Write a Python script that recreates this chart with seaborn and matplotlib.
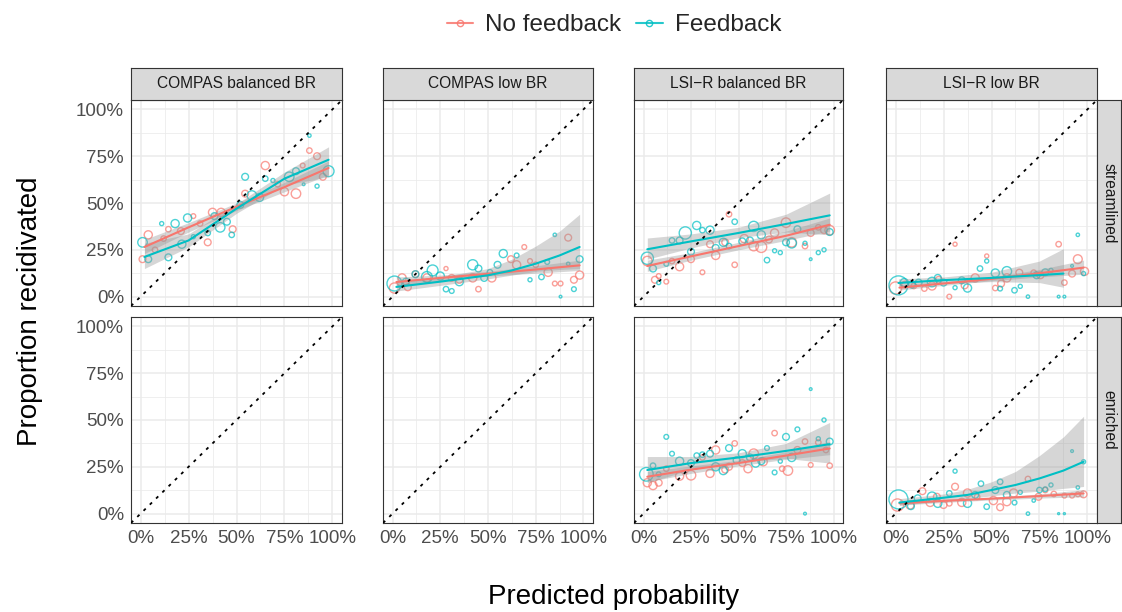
import numpy as np
import pandas as pd
import matplotlib
matplotlib.use("Agg")
import matplotlib.pyplot as plt
import seaborn as sns
from matplotlib.lines import Line2D

sns.set_style("white")
plt.rcParams["font.family"] = ["Liberation Sans", "DejaVu Sans"]

# ---------------- data ----------------
conditions = ["No feedback", "Feedback"]
col_labels = ["COMPAS balanced BR", "COMPAS low BR", "LSI\u2212R balanced BR", "LSI\u2212R low BR"]
row_labels = ["streamlined", "enriched"]
tick_vals = [0, 0.25, 0.5, 0.75, 1.0]
tick_labels = ["0%", "25%", "50%", "75%", "100%"]

fit_x = [0.02, 0.25, 0.5, 0.75, 0.98]

# Panel 1: COMPAS balanced BR / streamlined
p1_nf_x = [0.01,0.04,0.075,0.12,0.145,0.21,0.275,0.31,0.35,0.375,0.42,0.48,0.545,0.65,0.715,0.75,0.81,0.845,0.88,0.92,0.95]
p1_nf_y = [0.20,0.33,0.25,0.31,0.36,0.35,0.43,0.39,0.29,0.45,0.45,0.36,0.55,0.70,0.60,0.56,0.55,0.70,0.78,0.75,0.64]
p1_nf_n = [100,144,64,64,64,100,49,64,100,144,144,100,100,144,64,144,196,49,64,100,100]
p1_fb_x = [0.01,0.04,0.11,0.145,0.18,0.215,0.245,0.275,0.35,0.385,0.415,0.45,0.475,0.52,0.545,0.58,0.62,0.65,0.69,0.775,0.81,0.85,0.88,0.92,0.98]
p1_fb_y = [0.29,0.20,0.39,0.21,0.39,0.28,0.42,0.32,0.34,0.43,0.37,0.40,0.33,0.49,0.64,0.54,0.53,0.63,0.62,0.64,0.67,0.60,0.86,0.59,0.67]
p1_fb_n = [196,100,36,100,144,144,144,36,64,100,196,100,64,100,100,196,144,64,36,196,100,16,25,36,256]
p1_nf_fx = fit_x
p1_nf_fit = [0.265, 0.37, 0.48, 0.585, 0.687]
p1_nf_lo = [0.23, 0.345, 0.46, 0.56, 0.65]
p1_nf_hi = [0.305, 0.395, 0.50, 0.61, 0.725]
p1_fb_fx = fit_x
p1_fb_fit = [0.212, 0.30, 0.47, 0.63, 0.731]
p1_fb_lo = [0.15, 0.265, 0.445, 0.595, 0.64]
p1_fb_hi = [0.285, 0.335, 0.495, 0.665, 0.80]

# Panel 2: COMPAS low BR / streamlined
p2_nf_x = [0.01,0.05,0.08,0.12,0.18,0.28,0.31,0.35,0.42,0.45,0.52,0.62,0.65,0.69,0.72,0.75,0.815,0.85,0.88,0.92,0.95,0.98]
p2_nf_y = [0.046,0.10,0.05,0.12,0.10,0.15,0.10,0.09,0.10,0.04,0.10,0.20,0.17,0.265,0.19,0.17,0.13,0.07,0.07,0.315,0.09,0.115]
p2_nf_n = [225,144,100,100,144,36,100,100,144,64,144,100,144,49,49,64,144,49,49,100,100,144]
p2_fb_x = [0.01,0.07,0.12,0.18,0.21,0.25,0.28,0.31,0.35,0.42,0.45,0.48,0.51,0.55,0.58,0.65,0.72,0.78,0.81,0.85,0.88,0.92,0.95,0.98]
p2_fb_y = [0.07,0.08,0.12,0.105,0.14,0.11,0.04,0.03,0.08,0.17,0.15,0.10,0.13,0.17,0.23,0.22,0.09,0.105,0.185,0.33,0.0,0.175,0.04,0.20]
p2_fb_n = [484,100,100,256,256,144,64,49,144,225,100,100,64,100,144,49,36,64,49,25,16,25,49,100]
p2_nf_fx = fit_x
p2_nf_fit = [0.078, 0.10, 0.122, 0.145, 0.167]
p2_nf_lo = [0.05, 0.085, 0.11, 0.125, 0.14]
p2_nf_hi = [0.105, 0.115, 0.135, 0.165, 0.195]
p2_fb_fx = [0.02, 0.25, 0.5, 0.625, 0.75, 0.875, 0.98]
p2_fb_fit = [0.052, 0.08, 0.114, 0.14, 0.176, 0.22, 0.265]
p2_fb_lo = [0.03, 0.06, 0.095, 0.115, 0.135, 0.145, 0.15]
p2_fb_hi = [0.085, 0.105, 0.15, 0.20, 0.27, 0.35, 0.44]

# Panel 3: LSI-R balanced BR / streamlined
p3_nf_x = [0.02,0.06,0.08,0.12,0.15,0.19,0.25,0.31,0.35,0.38,0.43,0.45,0.48,0.53,0.58,0.62,0.66,0.69,0.75,0.78,0.85,0.88,0.92,0.95,0.98]
p3_nf_y = [0.19,0.09,0.11,0.08,0.19,0.16,0.20,0.13,0.28,0.22,0.29,0.44,0.17,0.31,0.27,0.265,0.305,0.34,0.395,0.29,0.27,0.34,0.37,0.355,0.355]
p3_nf_n = [196,100,49,49,64,144,100,49,100,144,100,64,64,144,196,256,100,144,196,196,64,100,64,100,196]
p3_fb_x = [0.02,0.05,0.08,0.12,0.15,0.19,0.22,0.25,0.28,0.31,0.35,0.38,0.42,0.45,0.48,0.52,0.56,0.58,0.62,0.65,0.69,0.72,0.75,0.78,0.81,0.85,0.88,0.92,0.95,0.98]
p3_fb_y = [0.205,0.15,0.075,0.175,0.30,0.30,0.34,0.24,0.38,0.355,0.355,0.26,0.29,0.27,0.40,0.295,0.30,0.375,0.33,0.195,0.245,0.235,0.29,0.285,0.36,0.285,0.20,0.235,0.25,0.345]
p3_fb_n = [324,100,36,49,64,100,324,100,144,64,144,100,144,64,64,100,100,225,144,64,36,36,100,196,100,36,16,36,36,100]
p3_nf_fx = fit_x
p3_nf_fit = [0.164, 0.215, 0.27, 0.325, 0.384]
p3_nf_lo = [0.135, 0.195, 0.25, 0.30, 0.35]
p3_nf_hi = [0.195, 0.235, 0.29, 0.35, 0.42]
p3_fb_fx = fit_x
p3_fb_fit = [0.253, 0.295, 0.34, 0.388, 0.434]
p3_fb_lo = [0.20, 0.26, 0.315, 0.345, 0.33]
p3_fb_hi = [0.313, 0.335, 0.37, 0.44, 0.553]

# Panel 4: LSI-R low BR / streamlined
p4_nf_x = [0.0,0.05,0.095,0.15,0.19,0.225,0.28,0.31,0.36,0.415,0.475,0.52,0.55,0.58,0.645,0.72,0.755,0.85,0.88,0.92,0.95,0.985]
p4_nf_y = [0.046,0.064,0.057,0.043,0.057,0.09,0.0,0.28,0.06,0.10,0.217,0.046,0.07,0.10,0.128,0.128,0.114,0.28,0.075,0.123,0.20,0.135]
p4_nf_n = [324,100,64,64,144,100,49,36,100,144,36,64,100,144,100,64,100,64,64,100,169,144]
p4_fb_x = [0.015,0.045,0.085,0.12,0.19,0.22,0.25,0.31,0.345,0.375,0.44,0.475,0.52,0.545,0.58,0.62,0.65,0.69,0.735,0.78,0.81,0.85,0.88,0.92,0.95,0.98]
p4_fb_y = [0.06,0.075,0.064,0.075,0.078,0.10,0.075,0.048,0.087,0.046,0.15,0.19,0.126,0.043,0.135,0.034,0.055,0.0,0.114,0.13,0.14,0.0,0.0,0.164,0.33,0.123]
p4_fb_n = [784,144,100,100,196,100,100,36,100,144,64,36,144,49,196,64,36,25,100,100,36,16,16,16,25,36]
p4_nf_fx = fit_x
p4_nf_fit = [0.048, 0.07, 0.095, 0.125, 0.155]
p4_nf_lo = [0.035, 0.06, 0.085, 0.105, 0.12]
p4_nf_hi = [0.065, 0.08, 0.105, 0.145, 0.195]
p4_fb_fx = [0.015, 0.25, 0.5, 0.75, 0.875]
p4_fb_fit = [0.073, 0.088, 0.10, 0.115, 0.123]
p4_fb_lo = [0.055, 0.07, 0.08, 0.075, 0.05]
p4_fb_hi = [0.095, 0.105, 0.13, 0.19, 0.256]

# Panel 7: LSI-R balanced BR / enriched
p7_nf_x = [0.02,0.05,0.08,0.12,0.19,0.25,0.31,0.35,0.38,0.43,0.45,0.48,0.52,0.55,0.58,0.63,0.69,0.73,0.76,0.81,0.85,0.88,0.92,0.96,0.98]
p7_nf_y = [0.165,0.15,0.165,0.24,0.20,0.205,0.30,0.215,0.34,0.235,0.25,0.375,0.27,0.24,0.32,0.277,0.43,0.24,0.23,0.34,0.385,0.26,0.38,0.34,0.256]
p7_nf_n = [144,144,100,64,144,196,64,144,144,100,100,64,100,144,196,144,64,64,196,100,64,49,64,64,64]
p7_fb_x = [0.015,0.05,0.08,0.12,0.15,0.19,0.25,0.28,0.31,0.35,0.38,0.42,0.45,0.49,0.52,0.56,0.59,0.62,0.65,0.69,0.72,0.75,0.78,0.81,0.85,0.88,0.92,0.95,0.98]
p7_fb_y = [0.21,0.256,0.21,0.41,0.32,0.28,0.27,0.31,0.315,0.32,0.25,0.23,0.35,0.285,0.32,0.30,0.27,0.28,0.35,0.22,0.28,0.41,0.30,0.45,0.0,0.665,0.40,0.50,0.385]
p7_fb_n = [400,64,49,49,49,144,100,64,64,100,144,144,100,100,144,100,144,100,49,49,36,100,144,49,16,16,36,36,100]
p7_nf_fx = fit_x
p7_nf_fit = [0.197, 0.235, 0.27, 0.31, 0.348]
p7_nf_lo = [0.17, 0.215, 0.255, 0.29, 0.315]
p7_nf_hi = [0.225, 0.255, 0.285, 0.33, 0.385]
p7_fb_fx = fit_x
p7_fb_fit = [0.233, 0.27, 0.30, 0.335, 0.371]
p7_fb_lo = [0.165, 0.235, 0.275, 0.295, 0.27]
p7_fb_hi = [0.305, 0.305, 0.325, 0.375, 0.487]

# Panel 8: LSI-R low BR / enriched
p8_nf_x = [0.01,0.075,0.14,0.18,0.215,0.25,0.28,0.31,0.345,0.375,0.425,0.51,0.545,0.58,0.615,0.69,0.745,0.78,0.825,0.88,0.92,0.95,0.98]
p8_nf_y = [0.046,0.046,0.12,0.06,0.09,0.046,0.055,0.144,0.06,0.11,0.09,0.07,0.034,0.064,0.11,0.185,0.09,0.126,0.105,0.096,0.096,0.103,0.103]
p8_nf_n = [324,144,100,144,100,100,64,100,144,144,64,144,100,144,144,64,100,64,64,49,49,49,100]
p8_fb_x = [0.015,0.08,0.115,0.19,0.22,0.28,0.31,0.375,0.415,0.445,0.475,0.52,0.545,0.58,0.62,0.65,0.69,0.72,0.75,0.78,0.81,0.85,0.88,0.92,0.95,0.98]
p8_fb_y = [0.076,0.04,0.082,0.09,0.055,0.108,0.227,0.055,0.10,0.16,0.037,0.126,0.17,0.10,0.059,0.114,0.0,0.07,0.126,0.13,0.153,0.0,0.0,0.334,0.14,0.277]
p8_fb_n = [784,100,100,196,144,64,36,144,100,64,64,100,64,100,49,36,25,25,64,49,36,9,9,16,25,36]
p8_nf_fx = fit_x
p8_nf_fit = [0.055, 0.068, 0.08, 0.094, 0.108]
p8_nf_lo = [0.045, 0.06, 0.073, 0.083, 0.09]
p8_nf_hi = [0.068, 0.077, 0.088, 0.105, 0.128]
p8_fb_fx = [0.02, 0.25, 0.375, 0.5, 0.625, 0.75, 0.875, 0.98]
p8_fb_fit = [0.059, 0.085, 0.10, 0.126, 0.153, 0.188, 0.23, 0.277]
p8_fb_lo = [0.045, 0.068, 0.08, 0.095, 0.11, 0.12, 0.135, 0.145]
p8_fb_hi = [0.08, 0.105, 0.13, 0.17, 0.225, 0.31, 0.41, 0.52]

palette = {"No feedback": "#F8766D", "Feedback": "#00BFC4"}

panels = {
    (0, 0): (p1_nf_x, p1_nf_y, p1_nf_n, p1_fb_x, p1_fb_y, p1_fb_n,
             p1_nf_fx, p1_nf_fit, p1_nf_lo, p1_nf_hi, p1_fb_fx, p1_fb_fit, p1_fb_lo, p1_fb_hi),
    (0, 1): (p2_nf_x, p2_nf_y, p2_nf_n, p2_fb_x, p2_fb_y, p2_fb_n,
             p2_nf_fx, p2_nf_fit, p2_nf_lo, p2_nf_hi, p2_fb_fx, p2_fb_fit, p2_fb_lo, p2_fb_hi),
    (0, 2): (p3_nf_x, p3_nf_y, p3_nf_n, p3_fb_x, p3_fb_y, p3_fb_n,
             p3_nf_fx, p3_nf_fit, p3_nf_lo, p3_nf_hi, p3_fb_fx, p3_fb_fit, p3_fb_lo, p3_fb_hi),
    (0, 3): (p4_nf_x, p4_nf_y, p4_nf_n, p4_fb_x, p4_fb_y, p4_fb_n,
             p4_nf_fx, p4_nf_fit, p4_nf_lo, p4_nf_hi, p4_fb_fx, p4_fb_fit, p4_fb_lo, p4_fb_hi),
    (1, 2): (p7_nf_x, p7_nf_y, p7_nf_n, p7_fb_x, p7_fb_y, p7_fb_n,
             p7_nf_fx, p7_nf_fit, p7_nf_lo, p7_nf_hi, p7_fb_fx, p7_fb_fit, p7_fb_lo, p7_fb_hi),
    (1, 3): (p8_nf_x, p8_nf_y, p8_nf_n, p8_fb_x, p8_fb_y, p8_fb_n,
             p8_nf_fx, p8_nf_fit, p8_nf_lo, p8_nf_hi, p8_fb_fx, p8_fb_fit, p8_fb_lo, p8_fb_hi),
}

# ---------------- layout ----------------
W, H = 1122, 612
fig = plt.figure(figsize=(W / 100, H / 100), dpi=100)
fig.patch.set_facecolor("white")


def fax(x0, y0, x1, y1):
    return fig.add_axes([x0 / W, 1 - y1 / H, (x1 - x0) / W, (y1 - y0) / H])


cols = [(131, 342), (383, 593), (634, 843), (886, 1097)]
rows = [(100, 306), (317, 523)]
border = "#333333"
grid_c = "#EBEBEB"

for r, (y0, y1) in enumerate(rows):
    for c, (x0, x1) in enumerate(cols):
        ax = fax(x0, y0, x1, y1)
        ax.set_facecolor("white")
        ax.set_xlim(-0.05, 1.05)
        ax.set_ylim(-0.05, 1.05)
        ax.set_xticks(tick_vals)
        ax.set_yticks(tick_vals)
        ax.set_xticks([0.125, 0.375, 0.625, 0.875], minor=True)
        ax.set_yticks([0.125, 0.375, 0.625, 0.875], minor=True)
        ax.grid(True, which="major", color=grid_c, lw=1.1, zorder=0)
        ax.grid(True, which="minor", color=grid_c, lw=0.55, zorder=0)
        ax.set_axisbelow(True)
        for s in ax.spines.values():
            s.set_color(border)
            s.set_linewidth(0.8)
        ax.tick_params(which="minor", length=0)
        ax.tick_params(which="major", length=3, width=0.8, color=border,
                       labelsize=13.5, labelcolor="#4D4D4D", pad=2)
        if c == 0:
            ax.set_yticklabels(tick_labels)
        else:
            ax.set_yticklabels([])
            ax.tick_params(axis="y", length=0)
        if r == 1:
            ax.set_xticklabels(tick_labels)
        else:
            ax.set_xticklabels([])
            ax.tick_params(axis="x", length=0)
        ax.set_xlabel("")
        ax.set_ylabel("")

        if (r, c) in panels:
            (nfx, nfy, nfn, fbx, fby, fbn,
             nffx, nffit, nflo, nfhi, fbfx, fbfit, fblo, fbhi) = panels[(r, c)]
            pts = pd.concat([
                pd.DataFrame({"x": nfx, "y": nfy, "n": nfn, "cond": "No feedback"}),
                pd.DataFrame({"x": fbx, "y": fby, "n": fbn, "cond": "Feedback"}),
            ], ignore_index=True)
            sns.scatterplot(data=pts, x="x", y="y", hue="cond", size="n",
                            hue_order=conditions, palette=palette,
                            sizes=(0, 215), size_norm=(0, 900),
                            legend=False, ax=ax, alpha=0.7, linewidth=1.0, zorder=2)
            coll = ax.collections[-1]
            fc = coll.get_facecolors()
            coll.set_edgecolors(fc)
            coll.set_facecolors("none")

            fits = pd.concat([
                pd.DataFrame({"x": nffx, "fit": nffit, "lo": nflo, "hi": nfhi, "cond": "No feedback"}),
                pd.DataFrame({"x": fbfx, "fit": fbfit, "lo": fblo, "hi": fbhi, "cond": "Feedback"}),
            ], ignore_index=True)
            for cond in conditions:
                d = fits[fits["cond"] == cond]
                ax.fill_between(d["x"], d["lo"], d["hi"], color="#999999",
                                alpha=0.4, lw=0, zorder=2.5)
            sns.lineplot(data=fits, x="x", y="fit", hue="cond", hue_order=conditions,
                         palette=palette, legend=False, ax=ax, linewidth=1.5,
                         estimator=None, sort=True, zorder=3)
            ax.set_xlabel("")
            ax.set_ylabel("")

        ax.axline((0, 0), (1, 1), color="black", lw=1.3,
                  linestyle=(0, (1.7, 3.15)), zorder=4)

# strips on top
for c, (x0, x1) in enumerate(cols):
    sa = fax(x0, 68, x1, 100)
    sa.set_facecolor("#D9D9D9")
    sa.set_xticks([]); sa.set_yticks([])
    for s in sa.spines.values():
        s.set_color(border); s.set_linewidth(0.8)
    sa.text(0.5, 0.5, col_labels[c], ha="center", va="center",
            fontsize=11.2, color="#1A1A1A", transform=sa.transAxes)

# strips on right
for r, (y0, y1) in enumerate(rows):
    sa = fax(1097, y0, 1121, y1)
    sa.set_facecolor("#D9D9D9")
    sa.set_xticks([]); sa.set_yticks([])
    for s in sa.spines.values():
        s.set_color(border); s.set_linewidth(0.8)
    sa.text(0.5, 0.5, row_labels[r], ha="center", va="center", rotation=-90,
            fontsize=11.2, color="#1A1A1A", transform=sa.transAxes)

# axis titles
fig.text(0.5 * (131 + 1097) / W, 1 - 597 / H, "Predicted probability",
         ha="center", va="center", fontsize=20, color="black")
fig.text(30 / W, 1 - 311 / H, "Proportion recidivated", rotation=90,
         ha="center", va="center", fontsize=20, color="black")

# legend
handles = [Line2D([0], [0], color=palette[k], lw=1.5, marker="o", mfc="none",
                  mec=palette[k], ms=4.5, alpha=0.85) for k in conditions]
fig.legend(handles, conditions, loc="center", bbox_to_anchor=(0.5 * (131 + 1097) / W, 1 - 25 / H),
           ncol=2, frameon=False, fontsize=17.5, handlelength=1.1,
           handletextpad=0.5, columnspacing=0.6)

fig.savefig("out.png", dpi=100)
